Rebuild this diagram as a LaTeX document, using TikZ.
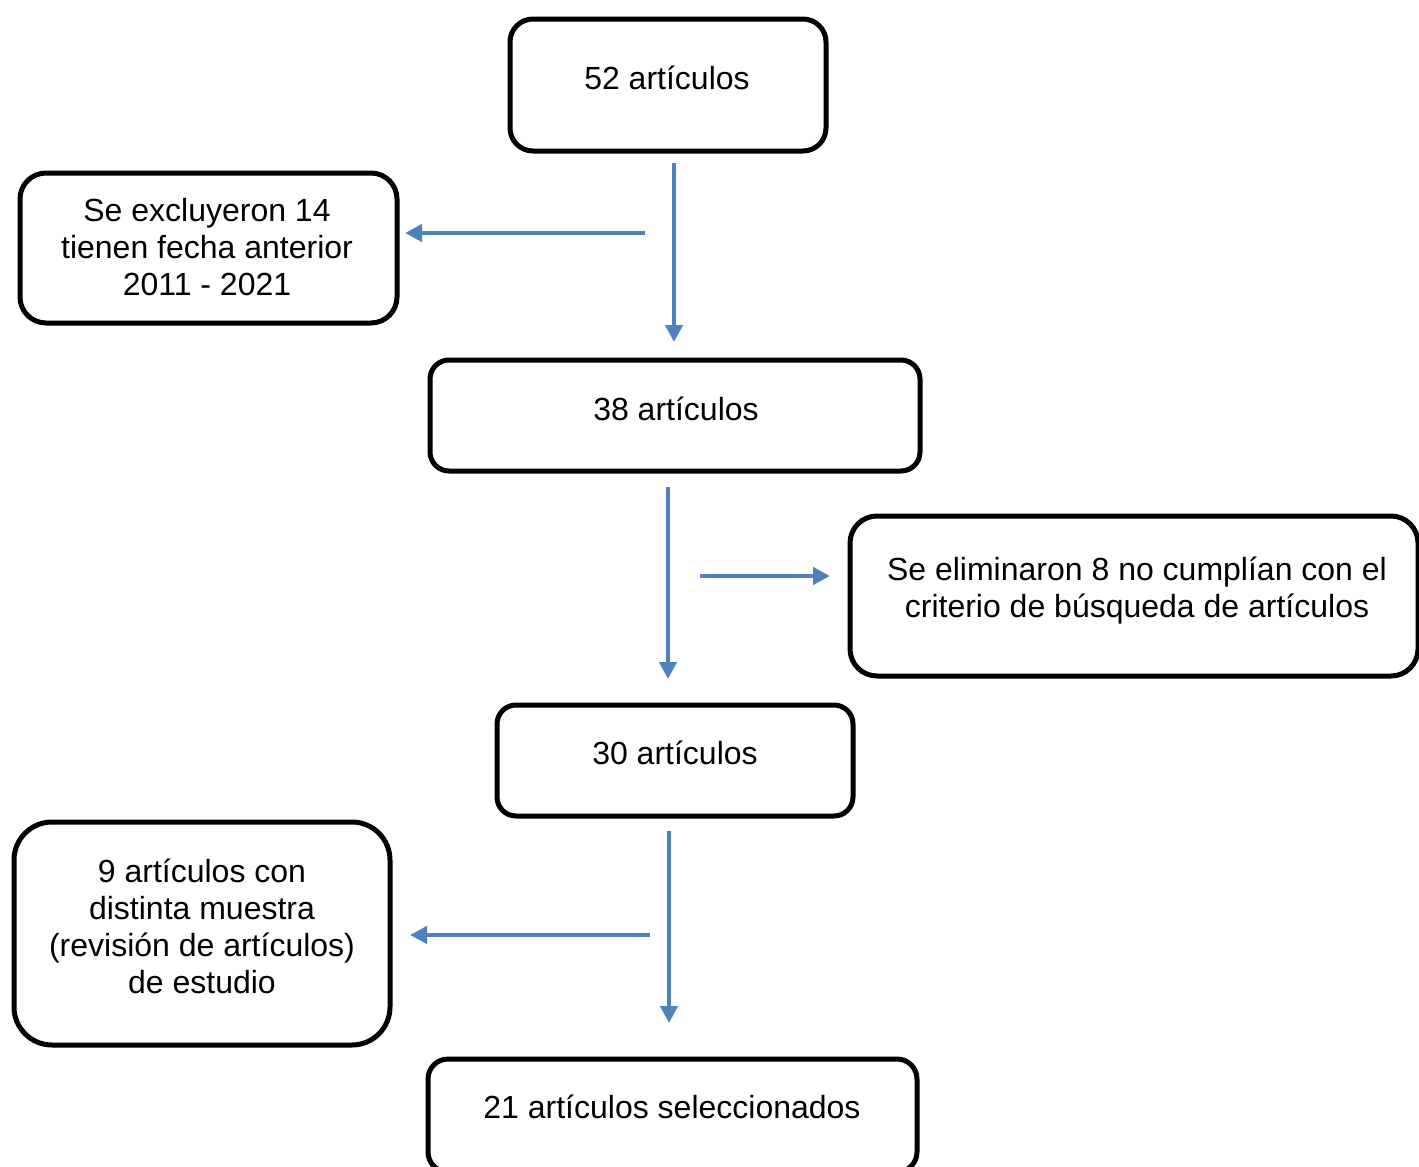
\documentclass[tikz,border=0pt]{standalone}
\usepackage{fontspec}
\setmainfont{Liberation Sans}
\usetikzlibrary{arrows.meta}
\definecolor{arrowblue}{HTML}{4F81BD}
\tikzset{
  boxshape/.style={draw=black, line width=5pt, rectangle, inner sep=0pt, outer sep=0pt},
  label32/.style={inner sep=0pt, align=center, font=\fontsize{32}{37}\selectfont},
  flowarrow/.style={draw=arrowblue, line width=4.5pt, -{Triangle[length=17pt,width=17pt]}}
}
\begin{document}
\begin{tikzpicture}[x=1pt,y=-1pt]
\useasboundingbox (0,0) rectangle (1419,1167);
% boxes
\node[boxshape, minimum width=316pt, minimum height=132pt, rounded corners=23pt] (b1) at (668,85) {};
\node[boxshape, minimum width=377pt, minimum height=150pt, rounded corners=26pt] (b2) at (208.5,248) {};
\node[boxshape, minimum width=490pt, minimum height=111pt, rounded corners=19pt] (b3) at (675,415.5) {};
\node[boxshape, minimum width=568pt, minimum height=160pt, rounded corners=27pt] (b4) at (1134,596) {};
\node[boxshape, minimum width=356pt, minimum height=111pt, rounded corners=19pt] (b5) at (675,760.5) {};
\node[boxshape, minimum width=376pt, minimum height=223pt, rounded corners=38pt] (b6) at (202,933.5) {};
\node[boxshape, minimum width=489pt, minimum height=113pt, rounded corners=20pt] (b7) at (672.5,1115.5) {};
% texts
\node[label32, anchor=base] (t1) at (667,89) {52 artículos};
\node[label32] (t2) at (207,247) {Se excluyeron 14\\tienen fecha anterior\\2011 - 2021};
\node[label32, anchor=base] (t3) at (676,420) {38 artículos};
\node[label32] (t4) at (1137,591) {Se eliminaron 8 no cumplían con el\\criterio de búsqueda de artículos};
\node[label32, anchor=base] (t5) at (675,764) {30 artículos};
\node[label32] (t6) at (202,926) {9 artículos con\\distinta muestra\\(revisión de artículos)\\de estudio};
\node[label32, anchor=base] (t7) at (672,1118) {21 artículos seleccionados};
% connector end points
\coordinate (a1s) at (674,163);
\coordinate (a1e) at (674,342);
\coordinate (a2s) at (645,233);
\coordinate (a2e) at (405,233);
\coordinate (a3s) at (668,487);
\coordinate (a3e) at (668,679);
\coordinate (a4s) at (700,576);
\coordinate (a4e) at (830,576);
\coordinate (a5s) at (669,831);
\coordinate (a5e) at (669,1023);
\coordinate (a6s) at (650,935);
\coordinate (a6e) at (410,935);
% connectors
\draw[flowarrow] (a1s) -- (a1e);
\draw[flowarrow] (a2s) -- (a2e);
\draw[flowarrow] (a3s) -- (a3e);
\draw[flowarrow] (a4s) -- (a4e);
\draw[flowarrow] (a5s) -- (a5e);
\draw[flowarrow] (a6s) -- (a6e);
\end{tikzpicture}
\end{document}
